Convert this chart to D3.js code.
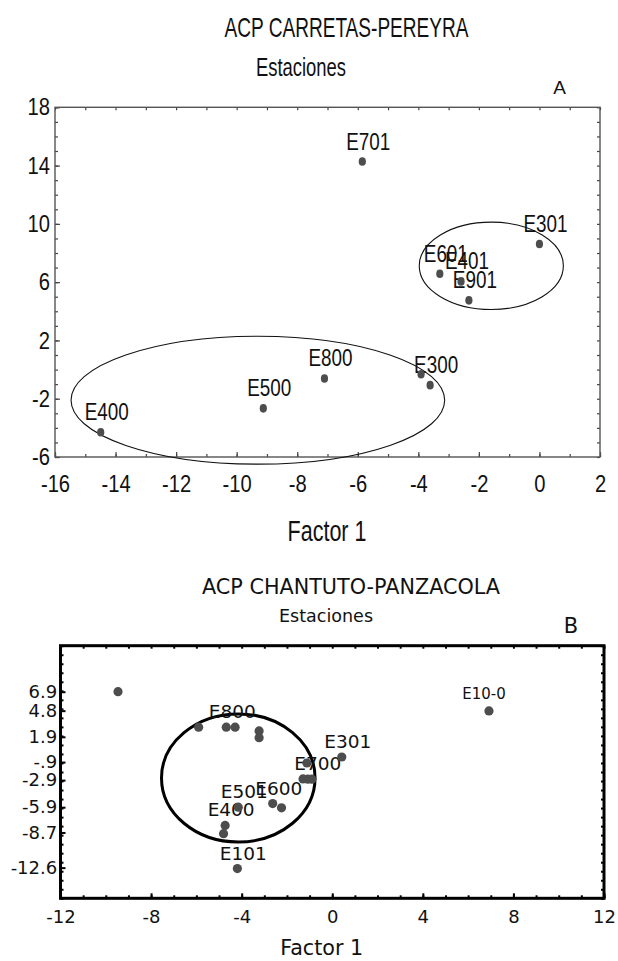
<!DOCTYPE html>
<html>
<head>
<meta charset="utf-8">
<script src="https://cdn.jsdelivr.net/npm/d3@7"></script>
<style>
  body { margin: 0; background: #fff; }
</style>
</head>
<body>
<svg id="chart" width="618" height="961"></svg>
<script>
// ---- Panel A: ACP CARRETAS-PEREYRA (factor scores per station)
const namesA = ["E701", "E301", "E601", "E401", "E901", "E800", "", "E300", "E500", "E400"];
const f1A = [-5.85, 0.0, -3.29, -2.59, -2.33, -7.1, -3.91, -3.61, -9.12, -14.49];
const f2A = [14.28, 8.62, 6.58, 6.05, 4.75, -0.61, -0.32, -1.07, -2.66, -4.3];
const xTicksA = [-16, -14, -12, -10, -8, -6, -4, -2, 0, 2];
const yTicksA = [18, 14, 10, 6, 2, -2, -6];
// circled groups: centre x, centre y, radius x, radius y (factor units)
const groupsA = [[-1.59, 7.12, 2.38, 3.0], [-9.3, -2.1, 6.17, 4.39]];

// ---- Panel B: ACP CHANTUTO-PANZACOLA
const namesB = ["", "E10-0", "", "E800", "", "", "", "E301", "", "", "", "E700",
                "E600", "", "E501", "E400", "", "E101"];
const f1B = [-9.46, 6.92, -5.9, -4.68, -4.29, -3.23, -3.23, 0.42, -1.12, -1.29, -1.08, -0.9,
             -2.63, -2.24, -4.15, -4.73, -4.8, -4.19];
const f2B = [6.9, 4.77, 2.97, 2.97, 2.97, 2.55, 1.8, -0.34, -1.0, -2.77, -2.8, -2.8,
             -5.5, -5.97, -5.9, -7.92, -8.84, -12.7];
const xTicksB = [-12, -8, -4, 0, 4, 8, 12];
const yTicksB = [6.9, 4.8, 1.9, -0.9, -2.9, -5.9, -8.7, -12.6];
const yTickLabelsB = ["6.9", "4.8", "1.9", "-.9", "-2.9", "-5.9", "-8.7", "-12.6"];
const groupsB = [[-4.15, -2.66, 3.39, 7.1]];

const narrow = "'Liberation Sans Narrow', 'Liberation Sans', Arial, sans-serif";
const geneva = "'DejaVu Sans', Verdana, sans-serif";

const svg = d3.select("#chart");

function title(txt, x, y, size, font, len) {
  const t = svg.append("text")
    .attr("x", x).attr("y", y)
    .attr("text-anchor", "middle")
    .style("font-family", font)
    .style("font-size", size + "px")
    .attr("fill", "#111")
    .text(txt);
  if (len) t.attr("textLength", len).attr("lengthAdjust", "spacingAndGlyphs");
  return t;
}

// squeeze texts horizontally (panel A uses a tall condensed face)
function squeeze(sel, k) {
  sel.each(function () {
    const w = this.getComputedTextLength();
    if (w > 0) d3.select(this).attr("textLength", w * k).attr("lengthAdjust", "spacingAndGlyphs");
  });
}

// ======================= Panel A =======================
const xA = d3.scaleLinear().domain([-16, 2]).range([55, 600]);
const yA = d3.scaleLinear().domain([-6, 18]).range([457, 107.3]);

title("ACP CARRETAS-PEREYRA", 346.5, 37, 28, narrow, 244);
title("Estaciones", 301, 76, 26, narrow, 90);
title("A", 559.5, 94, 19, narrow);
title("Factor 1", 327, 541, 29, narrow, 79);

// minor ticks on all four sides
const gA = svg.append("g");
gA.append("g").attr("transform", `translate(0,${yA(-6)})`)
  .call(d3.axisBottom(xA).tickValues(d3.range(-16, 3)).tickSize(-3).tickFormat(""));
gA.append("g").attr("transform", `translate(0,${yA(18)})`)
  .call(d3.axisTop(xA).tickValues(d3.range(-16, 3)).tickSize(-3).tickFormat(""));
gA.append("g").attr("transform", `translate(${xA(-16)},0)`)
  .call(d3.axisLeft(yA).tickValues(d3.range(-6, 19)).tickSize(-3).tickFormat(""));
gA.append("g").attr("transform", `translate(${xA(2)},0)`)
  .call(d3.axisRight(yA).tickValues(d3.range(-6, 19)).tickSize(-3).tickFormat(""));

// labelled ticks
gA.append("g").attr("transform", `translate(0,${yA(-6)})`)
  .call(d3.axisBottom(xA).tickValues(xTicksA).tickSize(-5).tickPadding(17.6).tickFormat(d => String(d)));
gA.append("g").attr("transform", `translate(${xA(-16)},0)`)
  .call(d3.axisLeft(yA).tickValues(yTicksA).tickSize(-5).tickPadding(5).tickFormat(d => String(d)));
gA.selectAll(".domain").remove();
gA.selectAll("line").attr("stroke", "#444").attr("stroke-width", 1.2);
gA.selectAll("text").style("font-family", narrow).style("font-size", "24px").attr("fill", "#111");
squeeze(gA.selectAll("text"), 0.84);

svg.append("rect")
  .attr("x", xA(-16)).attr("y", yA(18))
  .attr("width", xA(2) - xA(-16)).attr("height", yA(-6) - yA(18))
  .attr("fill", "none").attr("stroke", "#555").attr("stroke-width", 1.4);

svg.append("g").selectAll("ellipse").data(groupsA).join("ellipse")
  .attr("cx", d => xA(d[0])).attr("cy", d => yA(d[1]))
  .attr("rx", d => xA(d[0] + d[2]) - xA(d[0]))
  .attr("ry", d => yA(d[1] - d[3]) - yA(d[1]))
  .attr("fill", "none").attr("stroke", "#111").attr("stroke-width", 1.1);

const ptsA = namesA.map((n, i) => ({ name: n, x: f1A[i], y: f2A[i] }));
const labA = svg.append("g").selectAll("text").data(ptsA.filter(d => d.name)).join("text")
  .attr("x", d => xA(d.x) + 6).attr("y", d => yA(d.y) - 12)
  .attr("text-anchor", "middle")
  .style("font-family", narrow).style("font-size", "23px").attr("fill", "#111")
  .text(d => d.name);
squeeze(labA, 0.82);
svg.append("g").selectAll("ellipse").data(ptsA).join("ellipse")
  .attr("cx", d => xA(d.x)).attr("cy", d => yA(d.y))
  .attr("rx", 3.6).attr("ry", 4.3)
  .attr("fill", "#4d4d4d");

// ======================= Panel B =======================
const xB = d3.scaleLinear().domain([-12, 12]).range([60.5, 604]);
const yB = d3.scaleLinear().domain([-16, 12]).range([898.3, 645.7]);

title("ACP CHANTUTO-PANZACOLA", 351, 594, 22, geneva, 298);
title("Estaciones", 326, 622, 18, geneva, 94);
title("B", 571, 632.7, 21, geneva);
title("Factor 1", 321.7, 955, 21, geneva, 83);

const gB = svg.append("g");
gB.append("g").attr("transform", `translate(0,${yB(-16)})`)
  .call(d3.axisBottom(xB).tickValues(d3.range(-12, 13)).tickSize(-3).tickFormat(""));
gB.append("g").attr("transform", `translate(0,${yB(12)})`)
  .call(d3.axisTop(xB).tickValues(d3.range(-12, 13)).tickSize(-3).tickFormat(""));
gB.append("g").attr("transform", `translate(${xB(-12)},0)`)
  .call(d3.axisLeft(yB).tickValues(d3.range(-16, 13)).tickSize(-3).tickFormat(""));
gB.append("g").attr("transform", `translate(${xB(12)},0)`)
  .call(d3.axisRight(yB).tickValues(d3.range(-16, 13)).tickSize(-3).tickFormat(""));
gB.append("g").attr("transform", `translate(0,${yB(-16)})`)
  .call(d3.axisBottom(xB).tickValues(xTicksB).tickSize(-5).tickPadding(11.9).tickFormat(d => String(d)));
gB.append("g").attr("transform", `translate(${xB(-12)},0)`)
  .call(d3.axisLeft(yB).tickValues(yTicksB).tickSize(-5).tickPadding(3.3)
    .tickFormat((d, i) => yTickLabelsB[i]));
gB.selectAll(".domain").remove();
gB.selectAll("line").attr("stroke", "#000").attr("stroke-width", 2);
gB.selectAll("text").style("font-family", geneva).style("font-size", "18px").attr("fill", "#111");

svg.append("rect")
  .attr("x", xB(-12)).attr("y", yB(12))
  .attr("width", xB(12) - xB(-12)).attr("height", yB(-16) - yB(12))
  .attr("fill", "none").attr("stroke", "#000").attr("stroke-width", 3);

svg.append("g").selectAll("ellipse").data(groupsB).join("ellipse")
  .attr("cx", d => xB(d[0])).attr("cy", d => yB(d[1]))
  .attr("rx", d => xB(d[0] + d[2]) - xB(d[0]))
  .attr("ry", d => yB(d[1] - d[3]) - yB(d[1]))
  .attr("fill", "none").attr("stroke", "#000").attr("stroke-width", 3);

// label nudges where the label sits off the usual spot
const nudgeB = { "E10-0": [-5, -12, 15] };
const ptsB = namesB.map((n, i) => ({ name: n, x: f1B[i], y: f2B[i] }));
svg.append("g").selectAll("text").data(ptsB.filter(d => d.name)).join("text")
  .attr("x", d => xB(d.x) + (nudgeB[d.name] ? nudgeB[d.name][0] : 6))
  .attr("y", d => yB(d.y) + (nudgeB[d.name] ? nudgeB[d.name][1] : -9))
  .attr("text-anchor", "middle")
  .style("font-family", geneva)
  .style("font-size", d => (nudgeB[d.name] ? nudgeB[d.name][2] : 18.5) + "px")
  .attr("fill", "#111")
  .text(d => d.name);
svg.append("g").selectAll("circle").data(ptsB).join("circle")
  .attr("cx", d => xB(d.x)).attr("cy", d => yB(d.y))
  .attr("r", 4.6)
  .attr("fill", "#4d4d4d");
</script>
</body>
</html>
